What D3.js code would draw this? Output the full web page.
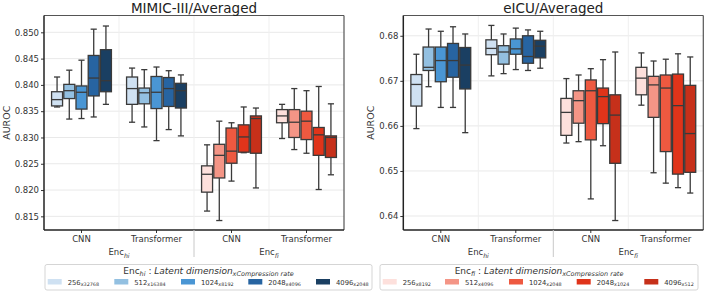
<!DOCTYPE html>
<html>
<head>
<meta charset="utf-8">
<script src="https://cdn.jsdelivr.net/npm/d3@7"></script>
<style>
  body { margin: 0; background: #fff; }
  svg { font-family: "DejaVu Sans", sans-serif; }
  text, tspan { white-space: pre; }
</style>
</head>
<body>
<svg id="chart" width="706" height="294"></svg>
<script>
// group tick labels and encoder labels
var groupNames = ["CNN", "Transformer", "CNN", "Transformer"];
var encNames = ["hi", "fi"];
var dimLabels = ["256", "512", "1024", "2048", "4096"];
var hiRates = ["x32768", "x16384", "x8192", "x4096", "x2048"];
var fiRates = ["x8192", "x4096", "x2048", "x1024", "x512"];

var blues = ["#cfe1f2", "#93c0e1", "#4a96d4", "#2764a1", "#1a3f62"];
var reds = ["#fde0dc", "#f49586", "#ee5940", "#e0341a", "#c6301a"];

// box stats per box: [whisker low, q1, median, q3, whisker high]
var mimicHiCnn = [
  [0.8358, 0.8360, 0.8372, 0.8387, 0.8415],
  [0.8335, 0.8374, 0.8389, 0.8401, 0.8428],
  [0.8336, 0.8354, 0.8386, 0.8398, 0.8447],
  [0.8339, 0.8379, 0.8413, 0.8456, 0.8506],
  [0.8363, 0.8387, 0.8408, 0.8467, 0.8512]
];
var mimicHiTrans = [
  [0.8329, 0.8363, 0.8393, 0.8415, 0.8432],
  [0.8320, 0.8364, 0.8385, 0.8394, 0.8429],
  [0.8294, 0.8355, 0.8386, 0.8416, 0.8434],
  [0.8315, 0.8359, 0.8393, 0.8414, 0.8427],
  [0.8303, 0.8356, 0.8389, 0.8403, 0.8419]
];
var mimicFiCnn = [
  [0.8160, 0.8196, 0.8230, 0.8246, 0.8286],
  [0.8142, 0.8223, 0.8266, 0.8287, 0.8331],
  [0.8217, 0.8251, 0.8274, 0.8318, 0.8328],
  [0.8271, 0.8272, 0.8301, 0.8324, 0.8358],
  [0.8204, 0.8270, 0.8336, 0.8341, 0.8356]
];
var mimicFiTrans = [
  [0.8298, 0.8328, 0.8341, 0.8353, 0.8363],
  [0.8277, 0.8300, 0.8329, 0.8353, 0.8393],
  [0.8270, 0.8296, 0.8331, 0.8350, 0.8389],
  [0.8201, 0.8266, 0.8305, 0.8319, 0.8397],
  [0.8229, 0.8262, 0.8300, 0.8303, 0.8364]
];

var eicuHiCnn = [
  [0.6594, 0.6644, 0.6692, 0.6714, 0.6759],
  [0.6687, 0.6723, 0.6730, 0.6775, 0.6815],
  [0.6641, 0.6698, 0.6745, 0.6775, 0.6810],
  [0.6641, 0.6708, 0.6745, 0.6783, 0.6820],
  [0.6585, 0.6682, 0.6735, 0.6774, 0.6804]
];
var eicuHiTrans = [
  [0.6711, 0.6758, 0.6772, 0.6791, 0.6823],
  [0.6716, 0.6737, 0.6764, 0.6778, 0.6804],
  [0.6725, 0.6759, 0.6771, 0.6793, 0.6817],
  [0.6723, 0.6739, 0.6754, 0.6800, 0.6813],
  [0.6728, 0.6751, 0.6777, 0.6790, 0.6810]
];
var eicuFiCnn = [
  [0.6562, 0.6579, 0.6630, 0.6661, 0.6705],
  [0.6565, 0.6606, 0.6656, 0.6678, 0.6713],
  [0.6438, 0.6569, 0.6678, 0.6702, 0.6727],
  [0.6556, 0.6605, 0.6665, 0.6684, 0.6747],
  [0.6390, 0.6517, 0.6624, 0.6669, 0.6764]
];
var eicuFiTrans = [
  [0.6646, 0.6669, 0.6706, 0.6730, 0.6762],
  [0.6496, 0.6619, 0.6691, 0.6710, 0.6744],
  [0.6473, 0.6543, 0.6684, 0.6713, 0.6748],
  [0.6463, 0.6493, 0.6645, 0.6715, 0.6760],
  [0.6451, 0.6497, 0.6583, 0.6690, 0.6753]
];

var mimicTicks = [0.815, 0.820, 0.825, 0.830, 0.835, 0.840, 0.845, 0.850];
var eicuTicks = [0.64, 0.65, 0.66, 0.67, 0.68];

var svg = d3.select("#chart");
var edge = "#3a3a3a";
var plotTop = 15.5, plotBottom = 230;

function rich(text, parts, size, drop) {
  var down = 0;
  parts.forEach(function(p) {
    var want = p.sub ? size * drop : 0;
    text.append("tspan")
      .attr("dy", want - down)
      .attr("font-size", p.sub ? size * 0.72 : size)
      .attr("font-style", p.it ? "italic" : "normal")
      .text(p.t);
    down = want;
  });
}

function drawPanel(p) {
  var x = d3.scaleBand().domain(d3.range(4)).range([p.x0, p.x1]);
  var hue = d3.scaleBand().domain(d3.range(5)).range([0, x.bandwidth()])
    .paddingInner(0.1).paddingOuter(0.62);
  var y = d3.scaleLinear().domain(p.yDomain).range([plotBottom, plotTop]);
  var g = svg.append("g");

  // grid
  g.selectAll(".hgrid").data(p.ticks).enter().append("line")
    .attr("x1", p.x0).attr("x2", p.x1)
    .attr("y1", function(d) { return y(d); }).attr("y2", function(d) { return y(d); })
    .attr("stroke", "#e9e9e9").attr("stroke-width", 1);
  g.selectAll(".vgrid").data([1, 2, 3]).enter().append("line")
    .attr("x1", function(d) { return x(d); }).attr("x2", function(d) { return x(d); })
    .attr("y1", plotTop).attr("y2", plotBottom)
    .attr("stroke", "#efefef").attr("stroke-width", 1);

  // boxes
  p.groups.forEach(function(boxes, gi) {
    var pal = gi < 2 ? blues : reds;
    var gg = g.append("g").attr("transform", "translate(" + x(gi) + ",0)");
    var w = hue.bandwidth();
    var b = gg.selectAll(".box").data(boxes).enter().append("g")
      .attr("transform", function(d, i) { return "translate(" + (hue(i) + w / 2) + ",0)"; });
    b.append("line").attr("x1", 0).attr("x2", 0)
      .attr("y1", function(d) { return y(d[0]); }).attr("y2", function(d) { return y(d[4]); })
      .attr("stroke", edge).attr("stroke-width", 1.3);
    b.append("line").attr("x1", -w * 0.28).attr("x2", w * 0.28)
      .attr("y1", function(d) { return y(d[0]); }).attr("y2", function(d) { return y(d[0]); })
      .attr("stroke", edge).attr("stroke-width", 1.3);
    b.append("line").attr("x1", -w * 0.28).attr("x2", w * 0.28)
      .attr("y1", function(d) { return y(d[4]); }).attr("y2", function(d) { return y(d[4]); })
      .attr("stroke", edge).attr("stroke-width", 1.3);
    b.append("rect").attr("x", -w / 2).attr("width", w)
      .attr("y", function(d) { return y(d[3]); })
      .attr("height", function(d) { return Math.max(0.5, y(d[1]) - y(d[3])); })
      .attr("fill", function(d, i) { return pal[i]; })
      .attr("stroke", edge).attr("stroke-width", 1.3);
    b.append("line").attr("x1", -w / 2).attr("x2", w / 2)
      .attr("y1", function(d) { return y(d[2]); }).attr("y2", function(d) { return y(d[2]); })
      .attr("stroke", edge).attr("stroke-width", 1.3);
  });

  // axes
  var ya = g.append("g").attr("transform", "translate(" + p.x0 + ",0)")
    .call(d3.axisLeft(y).tickValues(p.ticks).tickFormat(d3.format(p.fmt)).tickSize(3).tickPadding(2));
  ya.select(".domain").remove();
  ya.selectAll("text").attr("font-size", 8.5).attr("fill", "#333").attr("font-family", "DejaVu Sans");
  ya.selectAll("line").attr("stroke", "#333");

  var xa = g.append("g").attr("transform", "translate(0," + plotBottom + ")")
    .call(d3.axisBottom(x).tickFormat(function(i) { return groupNames[i]; }).tickSize(3).tickPadding(3));
  xa.select(".domain").remove();
  xa.selectAll("text").attr("font-size", 8.5).attr("fill", "#333").attr("font-family", "DejaVu Sans");
  xa.selectAll("line").attr("stroke", "#333");

  // spines
  g.append("line").attr("x1", p.x0).attr("x2", p.x1).attr("y1", plotTop).attr("y2", plotTop)
    .attr("stroke", "#555").attr("stroke-width", 1.2);
  g.append("line").attr("x1", p.x1).attr("x2", p.x1).attr("y1", plotTop).attr("y2", plotBottom)
    .attr("stroke", "#555").attr("stroke-width", 1.2);
  g.append("line").attr("x1", p.x0).attr("x2", p.x0).attr("y1", plotTop).attr("y2", plotBottom)
    .attr("stroke", "#222").attr("stroke-width", 1.5);
  g.append("line").attr("x1", p.x0).attr("x2", p.x1).attr("y1", plotBottom).attr("y2", plotBottom)
    .attr("stroke", "#222").attr("stroke-width", 1.5);

  // encoder separator and labels
  g.append("line").attr("x1", x(2)).attr("x2", x(2)).attr("y1", plotBottom).attr("y2", 257)
    .attr("stroke", "#c8c8c8").attr("stroke-width", 1);
  encNames.forEach(function(e, i) {
    var t = g.append("text").attr("x", x(i * 2 + 1)).attr("y", 255)
      .attr("text-anchor", "middle").attr("fill", "#333");
    rich(t, [{t: "Enc"}, {t: e, sub: true, it: true}], 8.5, 0.3);
  });

  // title and y label
  g.append("text").attr("x", (p.x0 + p.x1) / 2).attr("y", 13)
    .attr("text-anchor", "middle").attr("font-size", 13.5).attr("fill", "#222")
    .text(p.title);
  g.append("text").attr("transform", "translate(" + (p.x0 - p.ylabOff) + "," + ((plotTop + plotBottom) / 2) + ") rotate(-90)")
    .attr("text-anchor", "middle").attr("font-size", 9.5).attr("fill", "#333")
    .text("AUROC");
}

function drawLegend(l) {
  var g = svg.append("g");
  g.append("rect").attr("x", l.x0).attr("y", 264.5).attr("width", l.x1 - l.x0).attr("height", 25.5)
    .attr("rx", 2).attr("fill", "#fff").attr("stroke", "#d0d0d0").attr("stroke-width", 0.9);
  var t = g.append("text").attr("x", (l.x0 + l.x1) / 2).attr("y", 274)
    .attr("text-anchor", "middle").attr("fill", "#333");
  rich(t, [
    {t: "Enc"}, {t: l.enc, sub: true, it: true}, {t: " : "},
    {t: "Latent dimension", it: true}, {t: "xCompression rate", sub: true, it: true}
  ], 9, 0.2);
  dimLabels.forEach(function(d, i) {
    var cx = l.x0 + l.offsets[i];
    g.append("rect").attr("x", cx).attr("y", 279).attr("width", 14).attr("height", 5.5)
      .attr("fill", l.colors[i]);
    var lt = g.append("text").attr("x", cx + 20).attr("y", 285).attr("fill", "#333");
    rich(lt, [{t: d}, {t: l.rates[i], sub: true}], 6.8, 0.2);
  });
}

drawPanel({
  title: "MIMIC-III/Averaged", x0: 44, x1: 344, ylabOff: 34,
  yDomain: [0.8124, 0.8532], ticks: mimicTicks, fmt: ".3f",
  groups: [mimicHiCnn, mimicHiTrans, mimicFiCnn, mimicFiTrans]
});
drawPanel({
  title: "eICU/Averaged", x0: 403.3, x1: 703.3, ylabOff: 29,
  yDomain: [0.6369, 0.6845], ticks: eicuTicks, fmt: ".2f",
  groups: [eicuHiCnn, eicuHiTrans, eicuFiCnn, eicuFiTrans]
});

drawLegend({x0: 45, x1: 372, enc: "hi", colors: blues, rates: hiRates,
  offsets: [2.7, 69.3, 136, 203.3, 271]});
drawLegend({x0: 380, x1: 698, enc: "fi", colors: reds, rates: fiRates,
  offsets: [2.7, 65, 129, 196.7, 264.3]});
</script>
</body>
</html>
